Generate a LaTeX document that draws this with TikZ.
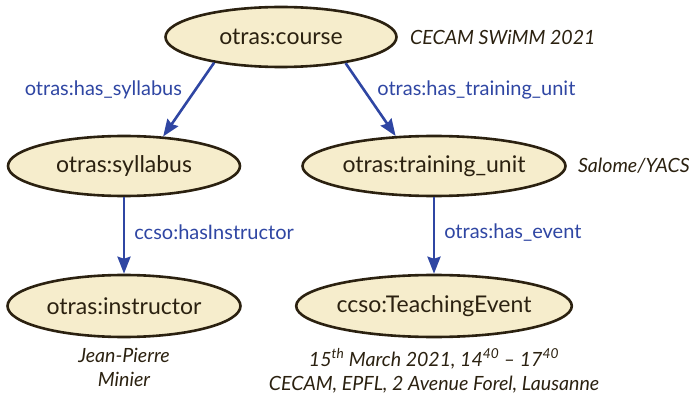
\documentclass[tikz,border=0pt]{standalone}
\usepackage{fontspec}
\setmainfont{Lato}
\usetikzlibrary{shapes.geometric,arrows.meta,positioning}

\definecolor{nodefill}{HTML}{F6EDCC}
\definecolor{nodeline}{HTML}{2B2110}
\definecolor{edgeblue}{HTML}{2F46A3}

\begin{document}
\begin{tikzpicture}[x=1pt,y=-1pt,
  cls/.style={ellipse,draw=nodeline,fill=nodefill,line width=2.6pt,minimum height=60pt,inner sep=0pt,text=nodeline,font=\fontsize{23}{27}\selectfont},
  rel/.style={draw=edgeblue,line width=2.6pt,-{Stealth[length=17pt,width=13pt,inset=2pt]}},
  rlab/.style={text=edgeblue,inner sep=0pt,font=\fontsize{20}{24}\selectfont},
  note/.style={text=nodeline,inner sep=0pt,align=center,font=\itshape\fontsize{19.6}{24}\selectfont}]
 \useasboundingbox (0,0) rectangle (689,396);
 % classes
 \node[cls,minimum width=231pt] (course) at (281,37) {otras:course};
 \node[cls,minimum width=232pt] (syllabus) at (124,166) {otras:syllabus};
 \node[cls,minimum width=263pt] (unit) at (434,166) {otras:training\_unit};
 \node[cls,minimum width=233pt,minimum height=62pt] (instructor) at (124,306) {otras:instructor};
 \node[cls,minimum width=263pt,minimum height=62pt] (event) at (434,306) {ccso:TeachingEvent};
 % properties
 \draw[rel] (course.201) -- node[rlab,pos=0.37,anchor=east,xshift=-12pt] (hassyl) {otras:has\_syllabus} (syllabus.37);
 \draw[rel] (course.338) -- node[rlab,pos=0.37,anchor=west,xshift=12pt] (hasunit) {otras:has\_training\_unit} (unit.142);
 \draw[rel] (syllabus.south) -- node[rlab,pos=0.46,anchor=west,xshift=9pt] (hasinst) {ccso:hasInstructor} (instructor.north);
 \draw[rel] (unit.south) -- node[rlab,pos=0.46,anchor=west,xshift=9pt] (hasevent) {otras:has\_event} (event.north);
 % instances
 \node[note,right=12pt of course] (swimm) {CECAM SWiMM 2021};
 \node[note,right=11pt of unit] (salome) {Salome/YACS};
 \node[note,below=10pt of instructor] (person) {Jean-Pierre\\Minier};
 \node[note,below=10pt of event] (when) {15\textsuperscript{th} March 2021, 14\textsuperscript{40} – 17\textsuperscript{40}\\CECAM, EPFL, 2 Avenue Forel, Lausanne};
\end{tikzpicture}
\end{document}
